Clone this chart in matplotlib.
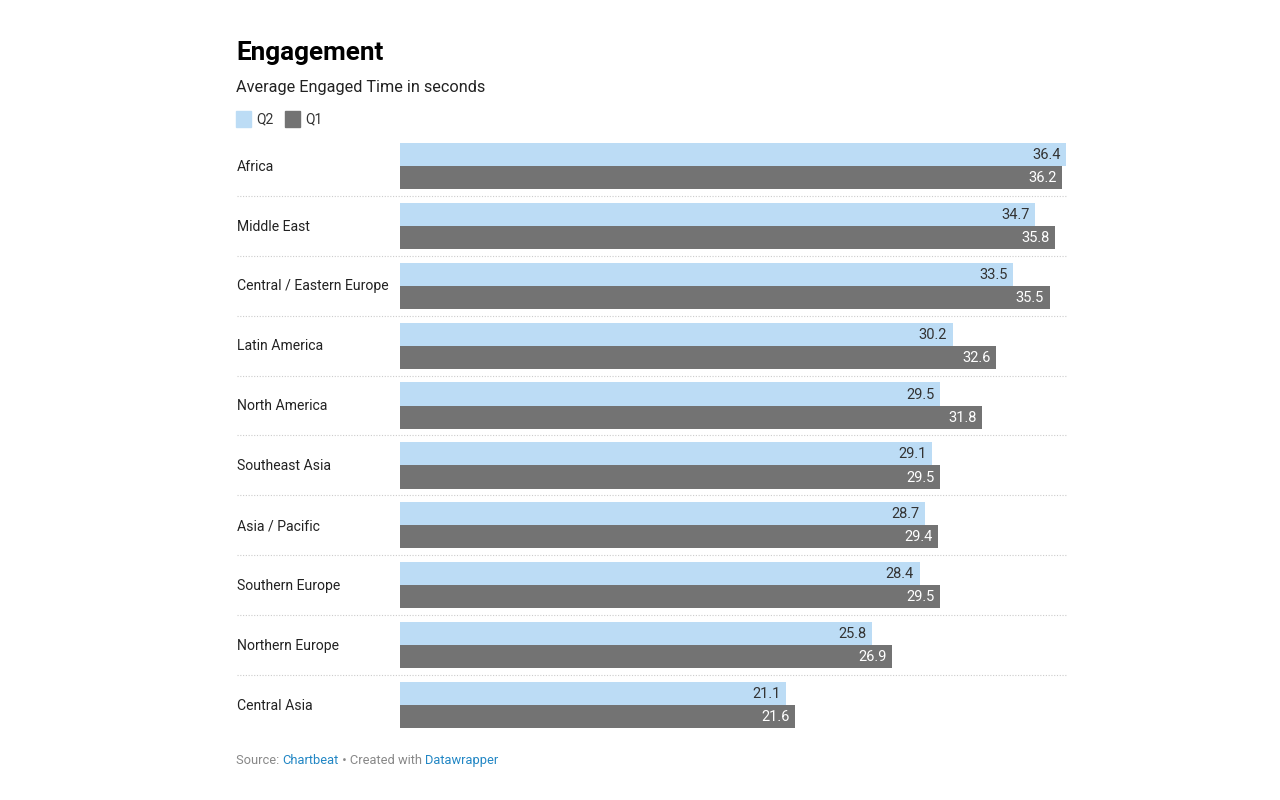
import matplotlib.pyplot as plt
import matplotlib.transforms as mtransforms
from matplotlib.patches import Rectangle
import numpy as np

plt.rcParams['font.family'] = ['Roboto', 'DejaVu Sans']

regions = ['Africa', 'Middle East', 'Central / Eastern Europe', 'Latin America',
           'North America', 'Southeast Asia', 'Asia / Pacific', 'Southern Europe',
           'Northern Europe', 'Central Asia']
q2 = [36.4, 34.7, 33.5, 30.2, 29.5, 29.1, 28.7, 28.4, 25.8, 21.1]
q1 = [36.2, 35.8, 35.5, 32.6, 31.8, 29.5, 29.4, 29.5, 26.9, 21.6]

c_q2 = '#bcdcf5'
c_q1 = '#737373'
W, H = 1280, 800

fig = plt.figure(figsize=(W / 100, H / 100), dpi=100)
fig.patch.set_facecolor('white')

# axes in pixel coordinates: x 400..1066, y 136..735
x0, x1, y0, y1 = 400, 1066, 136, 735
ax = fig.add_axes([x0 / W, 1 - y1 / H, (x1 - x0) / W, (y1 - y0) / H])
ax.set_xlim(0, max(q2))
ax.set_ylim(len(regions) - 0.5, -0.5)
ax.axis('off')

y = np.arange(len(regions))
bh = 0.385
ax.barh(y - bh / 2, q2, height=bh, color=c_q2)
ax.barh(y + bh / 2, q1, height=bh, color=c_q1)

for i in range(len(regions)):
    ax.annotate(f'{q2[i]:.1f}', (q2[i], y[i] - bh / 2), xytext=(-4, -0.4),
                textcoords='offset points', ha='right', va='center',
                fontsize=10.5, color='#333333')
    ax.annotate(f'{q1[i]:.1f}', (q1[i], y[i] + bh / 2), xytext=(-4, -0.4),
                textcoords='offset points', ha='right', va='center',
                fontsize=10.5, color='white')

trans = mtransforms.blended_transform_factory(fig.transFigure, ax.transData)
for i, name in enumerate(regions):
    ax.annotate(name, (237 / W, y[i]), xycoords=trans, xytext=(0, -0.5),
                textcoords='offset points', ha='left', va='center',
                fontsize=10.1, color='#222222')
    if i < len(regions) - 1:
        ax.plot([237 / W, x1 / W], [y[i] + 0.5, y[i] + 0.5], transform=trans,
                color='#cccccc', lw=0.8, ls=(0, (1, 1.5)), clip_on=False)

# title, subtitle
fig.text(236 / W, 1 - 60 / H, 'Engagement', fontsize=18.8, fontweight='bold',
         color='#000000', ha='left', va='baseline')
fig.text(236 / W, 1 - 92 / H, 'Average Engaged Time in seconds', fontsize=11.7,
         color='#222222', ha='left', va='baseline')

# legend
for lx, lab, col in [(236, 'Q2', c_q2), (285, 'Q1', c_q1)]:
    fig.patches.append(Rectangle((lx / W, 1 - 127 / H), 15 / W, 16 / H,
                                 transform=fig.transFigure, color=col))
    fig.text((lx + 20) / W, 1 - 119 / H, lab, fontsize=10, color='#333333',
             ha='left', va='center')

# footer
renderer = fig.canvas.get_renderer()
parts = [('Source: ', '#888888'), ('Chartbeat', '#2186c4'),
         (' \u2022 Created with ', '#888888'), ('Datawrapper', '#2186c4')]
fx = 236
for s, col in parts:
    t = fig.text(fx / W, 1 - 764 / H, s, fontsize=9.25, color=col,
                 ha='left', va='baseline')
    fx += t.get_window_extent(renderer).width

fig.savefig('out.png', dpi=100, facecolor='white')
